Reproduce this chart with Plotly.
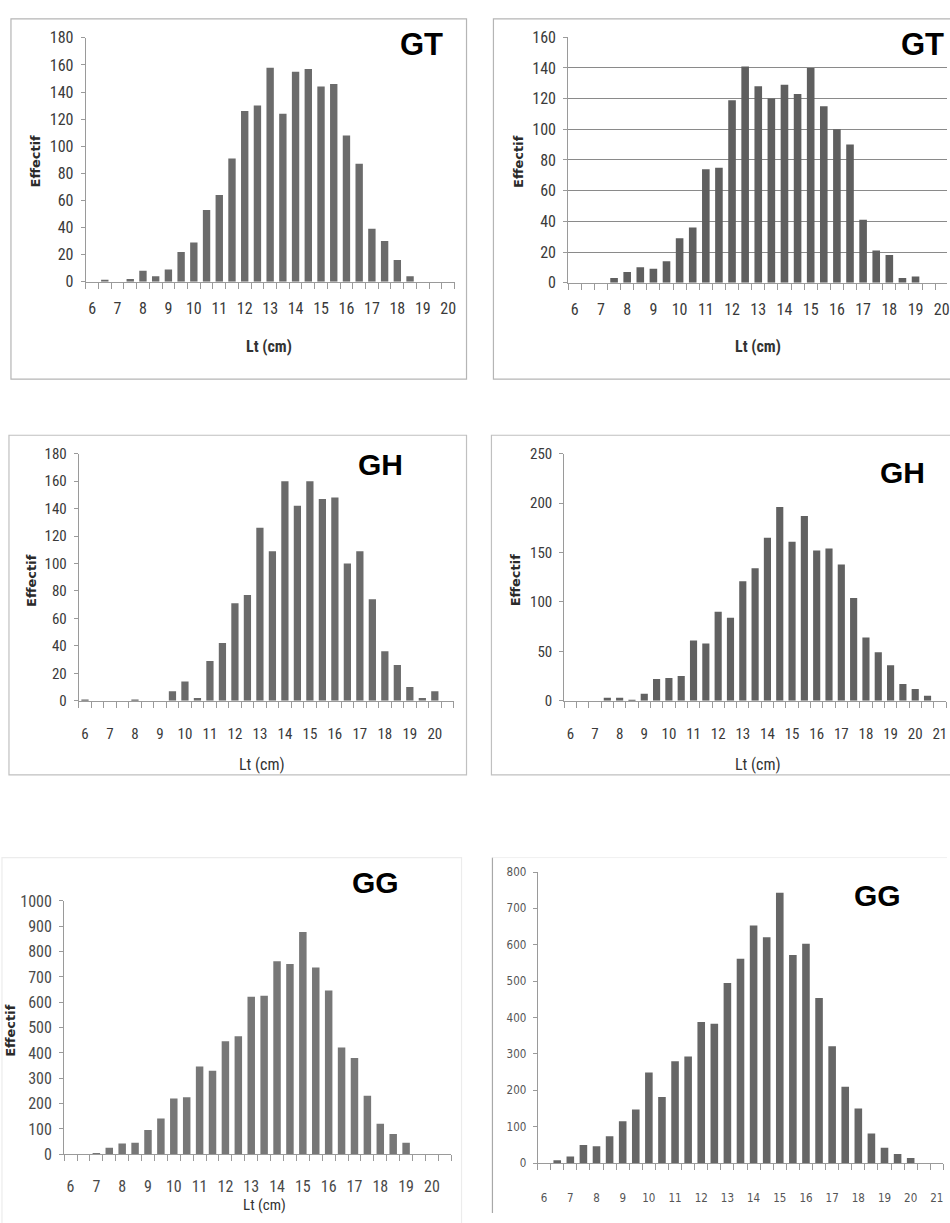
import plotly.graph_objects as go

W, H = 950, 1223

# ---------------- data ----------------
lt_6_20 = [6, 6.5, 7, 7.5, 8, 8.5, 9, 9.5, 10, 10.5, 11, 11.5, 12, 12.5, 13, 13.5,
           14, 14.5, 15, 15.5, 16, 16.5, 17, 17.5, 18, 18.5, 19, 19.5, 20]
lt_6_205 = lt_6_20 + [20.5]
lt_6_21 = lt_6_20 + [20.5, 21]

gt_left = [0, 1, 0, 2, 8, 4, 9, 22, 29, 53, 64, 91, 126, 130, 158, 124,
           155, 157, 144, 146, 108, 87, 39, 30, 16, 4, 0, 0, 0]
gt_right = [0, 0, 0, 3, 7, 10, 9, 14, 29, 36, 74, 75, 119, 141, 128, 120,
            129, 123, 140, 115, 100, 90, 41, 21, 18, 3, 4, 0, 0]
gh_left = [1, 0, 0, 0, 1, 0, 0, 7, 14, 2, 29, 42, 71, 77, 126, 109,
           160, 142, 160, 147, 148, 100, 109, 74, 36, 26, 10, 2, 7, 0]
gh_right = [0, 0, 0, 3, 3, 1, 7, 22, 23, 25, 61, 58, 90, 84, 121, 134,
            165, 196, 161, 187, 152, 154, 138, 104, 64, 49, 36, 17, 12, 5, 0]
gg_left = [0, 0, 5, 26, 42, 45, 96, 141, 220, 225, 346, 330, 446, 466, 622, 626,
           762, 751, 877, 737, 646, 421, 380, 231, 120, 80, 45, 0, 0, 0]
gg_right = [0, 8, 18, 50, 46, 74, 115, 147, 249, 182, 280, 293, 388, 383, 495, 562,
            653, 621, 743, 572, 603, 454, 321, 210, 150, 81, 42, 25, 14, 0, 0]

labels_6_20 = ["6", "7", "8", "9", "10", "11", "12", "13", "14", "15", "16", "17", "18", "19", "20"]
vals_6_20 = [6, 7, 8, 9, 10, 11, 12, 13, 14, 15, 16, 17, 18, 19, 20]
labels_6_21 = labels_6_20 + ["21"]
vals_6_21 = vals_6_20 + [21]

# ---------------- layout helpers ----------------
def px(x):
    return x / W


def py(y):
    return 1 - y / H


NARROW = "Roboto Condensed, Carlito, Lato, sans-serif"
SANS = "DejaVu Sans Condensed, DejaVu Sans, Verdana, sans-serif"

panels = [
    dict(x=lt_6_20, y=gt_left, xd=(86, 456), yd=(29.3, 277), xr=(5.75, 20.25), ym=180, dt=20,
         tv=vals_6_20, tt=labels_6_20, col="#6b6b6b", font=NARROW, fs=16, grid=False, fc="#3a3a3a", so=12),
    dict(x=lt_6_20, y=gt_right, xd=(570, 950), yd=(28.7, 278), xr=(5.75, 20.2), ym=160, dt=20,
         tv=vals_6_20, tt=labels_6_20, col="#5f5f5f", font=NARROW, fs=16, grid=True, fc="#3a3a3a", so=12),
    dict(x=lt_6_205, y=gh_left, xd=(79, 455), yd=(451.7, 702.7), xr=(5.75, 20.75), ym=180, dt=20,
         tv=vals_6_20, tt=labels_6_20, col="#6b6b6b", font=NARROW, fs=15, grid=False, fc="#3a3a3a", so=19),
    dict(x=lt_6_21, y=gh_right, xd=(566, 949), yd=(451.7, 702.7), xr=(5.75, 21.25), ym=250, dt=50,
         tv=vals_6_21, tt=labels_6_21, col="#616161", font=NARROW, fs=15, grid=False, fc="#3a3a3a", so=19),
    dict(x=lt_6_205, y=gg_left, xd=(64.3, 452.7), yd=(906, 1163.3), xr=(5.75, 20.75), ym=1000, dt=100,
         tv=vals_6_20, tt=labels_6_20, col="#777777", font=NARROW, fs=16, grid=False, fc="#4a4a4a", so=18),
    dict(x=lt_6_21, y=gg_right, xd=(539.3, 946.4), yd=(876.7, 1172.3), xr=(5.75, 21.25), ym=800, dt=100,
         tv=vals_6_21, tt=labels_6_21, col="#666666", font=SANS, fs=11.5,
         grid=False, fc="#555555", so=24),
]

fig = go.Figure()
layout = dict(
    width=W, height=H, margin=dict(l=0, r=0, t=0, b=0),
    paper_bgcolor="white", plot_bgcolor="white", showlegend=False,
    bargap=0.4,
)

for i, p in enumerate(panels):
    n = "" if i == 0 else str(i + 1)
    fig.add_trace(go.Bar(
        x=p["x"], y=p["y"], xaxis="x" + n, yaxis="y" + n,
        marker=dict(color=p["col"], line=dict(width=0)), width=0.29,
    ))
    layout["xaxis" + n] = dict(
        domain=[px(p["xd"][0]), px(p["xd"][1])], anchor="y" + n,
        range=list(p["xr"]), tickmode="array", tickvals=p["tv"], ticktext=p["tt"],
        ticks="", showgrid=False, zeroline=False, showline=True,
        linecolor="#9a9a9a", linewidth=1,
        tickfont=dict(family=p["font"], size=p["fs"], color=p["fc"]),
        ticklabelstandoff=p["so"], ticklabeloverflow="allow",
        minor=dict(tickmode="linear", tick0=5.75, dtick=0.5, ticks="outside",
                   ticklen=6, tickcolor="#9a9a9a", tickwidth=1, showgrid=False),
        fixedrange=True,
    )
    layout["yaxis" + n] = dict(
        domain=[py(p["yd"][1]), py(p["yd"][0])], anchor="x" + n,
        range=[0, p["ym"]], dtick=p["dt"], tick0=0,
        ticks="outside", ticklen=4, tickcolor="#9a9a9a",
        showline=True, linecolor="#9a9a9a", linewidth=1, zeroline=False,
        showgrid=p["grid"], gridcolor="#8a8a8a", gridwidth=1,
        tickfont=dict(family=p["font"], size=p["fs"], color=p["fc"]),
        ticklabelstandoff=4,
        fixedrange=True,
    )

# frames
shapes = []
frames = [
    (11, 10, 468, 376, "#b5b5b5"),
    (495, 10, 960, 376, "#b5b5b5"),
    (9, 433, 468, 778, "#c0c0c0"),
    (493, 433, 960, 778, "#c0c0c0"),
    (2, 862, 463, 1240, "#ececec"),
]
for x0, y0, x1, y1, c in frames:
    shapes.append(dict(type="rect", xref="paper", yref="paper",
                       x0=px(x0), x1=px(x1), y0=py(y1), y1=py(y0),
                       line=dict(color=c, width=1.2), layer="below"))
# bottom-right frame: visible left edge, faint top
shapes.append(dict(type="line", xref="paper", yref="paper", x0=px(494), x1=px(494),
                   y0=py(1223), y1=py(862), line=dict(color="#a8a8a8", width=1.2)))
shapes.append(dict(type="line", xref="paper", yref="paper", x0=px(494), x1=px(950),
                   y0=py(862), y1=py(862), line=dict(color="#f0f0f0", width=1)))
layout["shapes"] = shapes

ann = []
def add_text(x, y, text, size, family, color="#222", angle=0, bold=False):
    t = f"<b>{text}</b>" if bold else text
    ann.append(dict(xref="paper", yref="paper", x=px(x), y=py(y), text=t, showarrow=False,
                    xanchor="center", yanchor="middle", textangle=angle,
                    font=dict(size=size, family=family, color=color)))

LAB = "Liberation Sans, Arial, sans-serif"
add_text(423, 36, "GT", 31, LAB, "#000", bold=True)
add_text(925, 36, "GT", 31, LAB, "#000", bold=True)
add_text(382, 463, "GH", 30, LAB, "#000", bold=True)
add_text(905, 471, "GH", 30, LAB, "#000", bold=True)
add_text(377, 887, "GG", 30, LAB, "#000", bold=True)
add_text(880, 900, "GG", 30, LAB, "#000", bold=True)

EFF = "DejaVu Sans, Verdana, sans-serif"
add_text(36, 154, "Effectif", 13, EFF, "#2a2a2a", angle=-90, bold=True)
add_text(520, 155, "Effectif", 13, EFF, "#2a2a2a", angle=-90, bold=True)
add_text(32, 580, "Effectif", 13, EFF, "#2a2a2a", angle=-90, bold=True)
add_text(518, 580, "Effectif", 13, EFF, "#2a2a2a", angle=-90, bold=True)
add_text(11, 1037, "Effectif", 13, EFF, "#2a2a2a", angle=-90, bold=True)

add_text(270, 343, "Lt (cm)", 16, NARROW, "#333", bold=True)
add_text(760, 343, "Lt (cm)", 16, NARROW, "#333", bold=True)
add_text(263, 767, "Lt (cm)", 16, NARROW, "#333")
add_text(760, 767, "Lt (cm)", 16, NARROW, "#333")
add_text(265, 1215, "Lt (cm)", 15, NARROW, "#333")
layout["annotations"] = ann

fig.update_layout(**layout)
fig.write_html("out.html")
